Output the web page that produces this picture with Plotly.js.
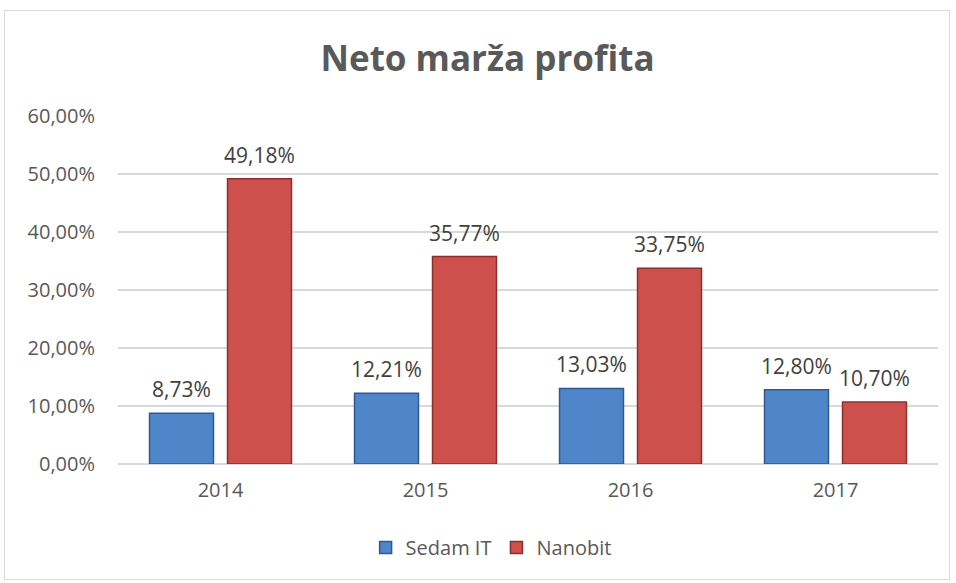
<!DOCTYPE html>
<html>
<head>
<meta charset="utf-8">
<script src="https://cdn.plot.ly/plotly-3.0.1.min.js"></script>
<style>
html,body{margin:0;padding:0;background:#fff;}
#frame{position:absolute;left:4px;top:10px;width:944px;height:568px;border:1px solid #d9d9d9;}
#chart{position:absolute;left:0;top:0;width:956px;height:583px;}
</style>
</head>
<body>
<div id="frame"></div>
<div id="chart"></div>
<script>
const categories = ['2014', '2015', '2016', '2017'];
const sedamIT = [8.73, 12.21, 13.03, 12.80];
const nanobit = [49.18, 35.77, 33.75, 10.70];
const yTickVals = [0, 10, 20, 30, 40, 50, 60];
const yTickText = ['0,00%', '10,00%', '20,00%', '30,00%', '40,00%', '50,00%', '60,00%'];

const fmt = v => v.toFixed(2).replace('.', ',') + '%';
const font = '"Open Sans", sans-serif';

const traces = [
  {type:'bar', name:'Sedam IT', x:categories, y:sedamIT, hoverinfo:'none',
   marker:{color:'#4f86c9', line:{color:'#2f5a8f', width:1.5}}},
  {type:'bar', name:'Nanobit', x:categories, y:nanobit, hoverinfo:'none',
   marker:{color:'#cd504c', line:{color:'#8c2f2c', width:1.5}}}
];

const annotations = [];
[[sedamIT, -39], [nanobit, 39]].forEach(([series, dx]) => {
  series.forEach((v, i) => {
    // x given as category index on the category axis
    annotations.push({x:i, y:v, xref:'x', yref:'y', text:fmt(v), showarrow:false,
      xanchor:'center', yanchor:'bottom', xshift:dx, yshift:8,
      font:{size:21, color:'#404040', family:font}});
  });
});

const layout = {
  width:956, height:583,
  paper_bgcolor:'rgba(0,0,0,0)', plot_bgcolor:'rgba(0,0,0,0)',
  margin:{l:118, r:18, t:116, b:119},
  title:{text:'<b>Neto marža profita</b>', x:0.51, xanchor:'center', y:0.90, yanchor:'middle',
         font:{size:35, color:'#595959', family:font}},
  barmode:'group', bargap:0.239, bargroupgap:0.18,
  showlegend:true,
  legend:{orientation:'h', x:0.455, xanchor:'center', y:-0.24, yanchor:'middle',
          font:{size:20, color:'#595959', family:font}, itemwidth:30},
  annotations:annotations,
  xaxis:{type:'category', categoryarray:categories, categoryorder:'array',
         showgrid:false, showline:false, ticks:'',
         tickfont:{size:20, color:'#595959', family:font}, ticklabelstandoff:12},
  yaxis:{range:[0,60], tickvals:yTickVals, ticktext:yTickText, showgrid:true,
         gridcolor:'#d9d9d9', gridwidth:1.2, zeroline:true, zerolinecolor:'#d9d9d9', zerolinewidth:1.2,
         showline:false, ticks:'', ticklabelstandoff:22,
         tickfont:{size:20, color:'#595959', family:font}}
};

Plotly.newPlot('chart', traces, layout, {displayModeBar:false, staticPlot:true});
</script>
</body>
</html>
